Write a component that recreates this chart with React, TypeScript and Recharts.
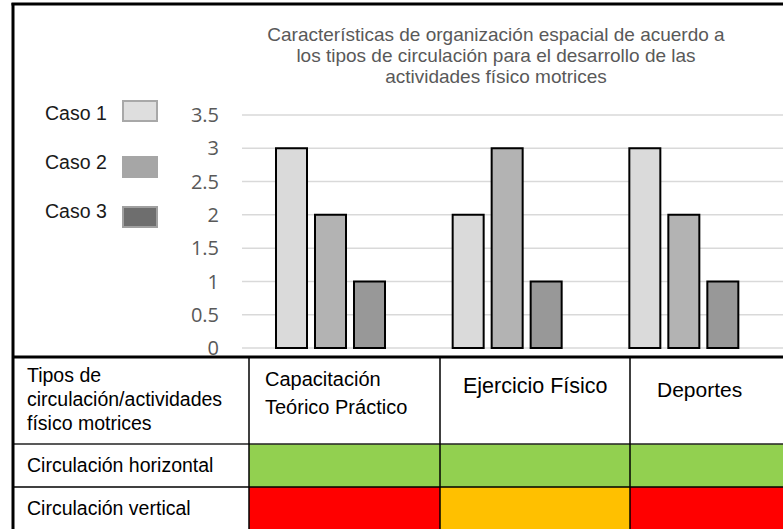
import React from "react";
import { BarChart, Bar, XAxis, YAxis, CartesianGrid } from "recharts";

// ---------- data ----------
const categories = ["Capacitación Teórico Práctico", "Ejercicio Físico", "Deportes"];
const caso1 = [3, 2, 3];
const caso2 = [2, 3, 2];
const caso3 = [1, 1, 1];
const seriesNames = ["Caso 1", "Caso 2", "Caso 3"];
const yTicks = [0, 0.5, 1, 1.5, 2, 2.5, 3, 3.5];
const titleLines = [
  "Características de organización espacial de acuerdo a",
  "los tipos de circulación para el desarrollo de las",
  "actividades físico motrices",
];
const cornerLines = ["Tipos de", "circulación/actividades", "físico motrices"];
const headerLines = [["Capacitación", "Teórico Práctico"], ["Ejercicio Físico"], ["Deportes"]];
const rowLabels = ["Circulación horizontal", "Circulación vertical"];
const horizontalStatus = ["adecuado", "adecuado", "adecuado"];
const verticalStatus = ["inadecuado", "regular", "inadecuado"];

// ---------- styles ----------
const W = 783;
const H = 529;
const barFills = ["#dadada", "#b3b3b3", "#989898"];
const legendFills = ["#dedede", "#a6a6a6", "#6e6e6e"];
const legendStrokes = ["#a8a8a8", "#a6a6a6", "#a0a0a0"];
const statusColors: Record<string, string> = {
  adecuado: "#92d050",
  regular: "#ffc000",
  inadecuado: "#ff0000",
};
const SANS = "'Liberation Sans', Arial, sans-serif";
const colX = [13, 249, 440, 630, 830];
const rowY = [357, 444, 487, 560];

const data = categories.map((c, i) => ({
  name: c,
  caso1: caso1[i],
  caso2: caso2[i],
  caso3: caso3[i],
}));
const keys = ["caso1", "caso2", "caso3"];

export default function App() {
  const legendY = [101, 157, 207];
  const legendBase = [120, 169, 218];
  const titleBase = [41, 62, 83];
  const headerX = [265, 463, 657];
  const headerBase = [[386, 414], [393], [397]];
  const headerSize = [20, 21.5, 21];
  const cornerBase = [382, 406, 430];
  const rowBase = [472, 515];
  const statusRows = [horizontalStatus, verticalStatus];

  return (
    <div style={{ position: "absolute", left: 0, top: 0, width: W, height: H, overflow: "hidden", background: "#fff" }}>
      <div style={{ position: "absolute", left: 0, top: 0 }}>
        <BarChart
          width={W}
          height={357}
          data={data}
          margin={{ top: 115, right: 0, bottom: 9, left: 0 }}
          barSize={31}
          barGap={8}
        >
          <CartesianGrid horizontal vertical={false} stroke="#d9d9d9" strokeWidth={1.5} />
          <XAxis dataKey="name" hide padding={{ left: 0, right: 11 }} />
          <YAxis
            width={242}
            domain={[0, 3.5]}
            ticks={yTicks}
            tickLine={false}
            axisLine={false}
            tickSize={0}
            tickMargin={23}
            interval={0}
            tick={{ fill: "#595959", fontSize: 20, fontFamily: "'Open Sans', sans-serif" }}
          />
          {keys.map((k, i) => (
            <Bar
              key={k}
              dataKey={k}
              name={seriesNames[i]}
              fill={barFills[i]}
              stroke="#000"
              strokeWidth={2}
              isAnimationActive={false}
            />
          ))}
        </BarChart>
      </div>
      <svg
        width={W}
        height={H}
        style={{ position: "absolute", left: 0, top: 0, pointerEvents: "none" }}
      >
        {/* title */}
        {titleLines.map((t, i) => (
          <text key={i} x={496} y={titleBase[i]} textAnchor="middle" fontFamily={SANS} fontSize={19} fill="#595959">
            {t}
          </text>
        ))}
        {/* legend */}
        {seriesNames.map((n, i) => (
          <g key={n}>
            <text x={45} y={legendBase[i]} fontFamily={SANS} fontSize={19.5} fill="#1a1a1a">
              {n}
            </text>
            <rect x={123} y={legendY[i]} width={34} height={20} fill={legendFills[i]} stroke={legendStrokes[i]} strokeWidth={2} />
          </g>
        ))}
        {/* table background */}
        <rect x={colX[0]} y={rowY[0]} width={W - colX[0]} height={H - rowY[0]} fill="#fff" />
        {statusRows.map((row, r) =>
          row.map((s, c) => (
            <rect
              key={r + "-" + c}
              x={colX[c + 1]}
              y={rowY[r + 1]}
              width={colX[c + 2] - colX[c + 1]}
              height={rowY[r + 2] - rowY[r + 1]}
              fill={statusColors[s]}
            />
          ))
        )}
        {/* grid lines */}
        <line x1={colX[0]} x2={W} y1={rowY[0]} y2={rowY[0]} stroke="#000" strokeWidth={3} />
        <line x1={colX[0]} x2={W} y1={rowY[1]} y2={rowY[1]} stroke="#222" strokeWidth={1.5} />
        <line x1={colX[0]} x2={W} y1={rowY[2]} y2={rowY[2]} stroke="#000" strokeWidth={1.5} />
        {colX.slice(1, 4).map((x, i) => (
          <line key={i} x1={x} x2={x} y1={rowY[0]} y2={H} stroke="#000" strokeWidth={1.5} />
        ))}
        {/* outer frame */}
        <line x1={colX[0]} x2={colX[0]} y1={3} y2={H} stroke="#000" strokeWidth={3} />
        <line x1={colX[0] - 1.5} x2={W} y1={4} y2={4} stroke="#000" strokeWidth={3} />
        {/* table texts */}
        {cornerLines.map((t, i) => (
          <text key={i} x={27} y={cornerBase[i]} fontFamily={SANS} fontSize={19.5} fill="#000">
            {t}
          </text>
        ))}
        {headerLines.map((lines, c) =>
          lines.map((t, j) => (
            <text key={c + "-" + j} x={headerX[c]} y={headerBase[c][j]} fontFamily={SANS} fontSize={headerSize[c]} fill="#000">
              {t}
            </text>
          ))
        )}
        {rowLabels.map((t, i) => (
          <text key={i} x={27} y={rowBase[i]} fontFamily={SANS} fontSize={19.5} fill="#000">
            {t}
          </text>
        ))}
      </svg>
    </div>
  );
}
